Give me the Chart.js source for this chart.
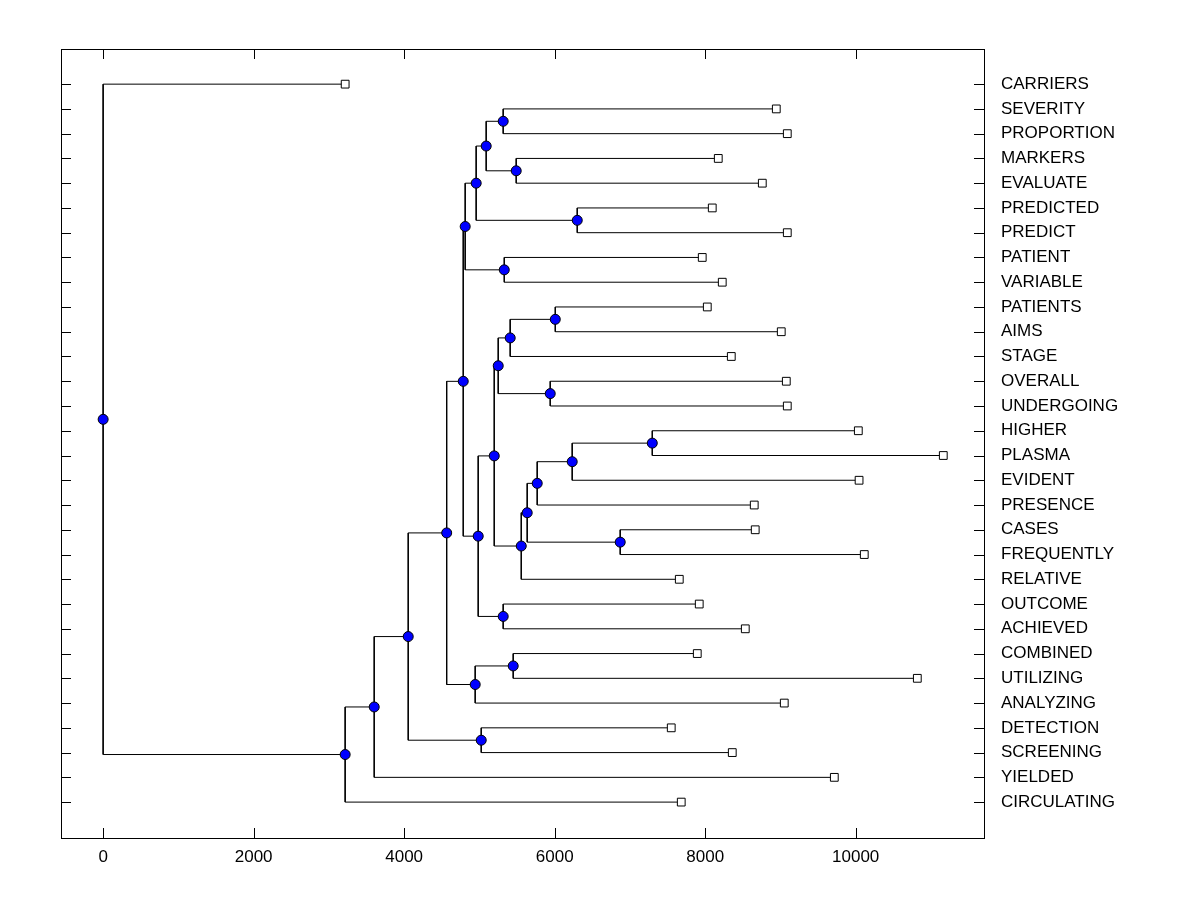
<!DOCTYPE html>
<html>
<head>
<meta charset="utf-8">
<script src="https://cdn.jsdelivr.net/npm/chart.js@4.4.1/dist/chart.umd.min.js"></script>
<style>
  html, body { margin: 0; padding: 0; background: #fff; }
  #wrap { width: 1200px; height: 900px; }
</style>
</head>
<body>
<div id="wrap"><canvas id="chartCanvas" width="1200" height="900"></canvas></div>
<script>
// leaves, top to bottom
const leafNames = ["CARRIERS", "SEVERITY", "PROPORTION", "MARKERS", "EVALUATE", "PREDICTED",
  "PREDICT", "PATIENT", "VARIABLE", "PATIENTS", "AIMS", "STAGE", "OVERALL", "UNDERGOING",
  "HIGHER", "PLASMA", "EVIDENT", "PRESENCE", "CASES", "FREQUENTLY", "RELATIVE", "OUTCOME",
  "ACHIEVED", "COMBINED", "UTILIZING", "ANALYZING", "DETECTION", "SCREENING", "YIELDED",
  "CIRCULATING"];
const leafHeights = [3216, 8945, 9091, 8174, 8759, 8094, 9091, 7961, 8227, 8028, 9011, 8347,
  9078, 9091, 10035, 11164, 10045, 8652, 8665, 10114, 7656, 7921, 8533, 7895, 10819, 9051,
  7549, 8360, 9716, 7682];

// merges (hclust style: -n = leaf n, +n = merge n)
const mergeLeft  = [-2, -4, 1, -6, 3, -8, 5, -10, 8, -13, 9, -15, 12, 13, -19, 14, 16, 11,
  -22, 18, 7, -24, 22, 21, -27, 24, 26, 27, -1];
const mergeRight = [-3, -5, 2, -7, 4, -9, 6, -11, -12, -14, 10, -16, -17, -18, -20, 15, -21,
  17, -23, 19, 20, -25, -26, 23, -28, 25, -29, -30, 28];
const mergeHeights = [5316, 5489, 5090, 6300, 4957, 5330, 4811, 6008, 5409, 5941, 5250, 7297,
  6233, 5768, 6871, 5635, 5556, 5197, 5316, 4984, 4785, 5449, 4944, 4565, 5024, 4054, 3602,
  3216, 0];

const xTicks = [0, 2000, 4000, 6000, 8000, 10000];

const nodePos = [];
const linkSets = [];

function childPos(ref) {
  if (ref < 0) return { x: leafHeights[-ref - 1], y: -ref - 1 };
  return nodePos[ref - 1];
}

mergeHeights.forEach((h, i) => {
  const a = childPos(mergeLeft[i]);
  const b = childPos(mergeRight[i]);
  nodePos.push({ x: h, y: (a.y + b.y) / 2 });
  linkSets.push([{ x: a.x, y: a.y }, { x: h, y: a.y }, { x: h, y: b.y }, { x: b.x, y: b.y }]);
});

const leafPos = leafHeights.map((v, i) => ({ x: v, y: i }));

// inward tick marks on all four sides
const innerTicks = {
  id: "innerTicks",
  beforeDatasetsDraw(chart) {
    const { ctx, chartArea: { left, right, top, bottom } } = chart;
    const xs = chart.scales.x, ys = chart.scales.y;
    ctx.save();
    ctx.strokeStyle = "#000";
    ctx.lineWidth = 1;
    ctx.beginPath();
    xTicks.forEach(v => {
      const px = Math.round(xs.getPixelForValue(v)) + 0.5;
      ctx.moveTo(px, bottom); ctx.lineTo(px, bottom - 10);
      ctx.moveTo(px, top); ctx.lineTo(px, top + 10);
    });
    leafNames.forEach((_, i) => {
      const py = Math.round(ys.getPixelForValue(i)) + 0.5;
      ctx.moveTo(left, py); ctx.lineTo(left + 10, py);
      ctx.moveTo(right, py); ctx.lineTo(right - 10, py);
    });
    ctx.stroke();
    ctx.restore();
  }
};

const datasets = [
  {
    data: nodePos, order: 0, pointStyle: "circle", pointRadius: 5, pointHoverRadius: 5,
    backgroundColor: "#0000ff", borderColor: "#000", borderWidth: 1
  },
  {
    data: leafPos, order: 0, pointStyle: "rect", pointRadius: 5.5, pointHoverRadius: 5.5,
    backgroundColor: "#fff", borderColor: "#000", borderWidth: 1
  }
].concat(linkSets.map(d => ({
  data: d, order: 1, showLine: true, pointRadius: 0, pointHoverRadius: 0,
  borderColor: "#000", borderWidth: 1, tension: 0, fill: false
})));

const font = { family: "'Liberation Sans', Arial, sans-serif", size: 17 };
Chart.defaults.color = "#000";

new Chart(document.getElementById("chartCanvas"), {
  type: "scatter",
  data: { datasets },
  options: {
    responsive: false,
    devicePixelRatio: 1,
    animation: false,
    events: [],
    layout: { padding: { left: 61, top: 49, right: 0, bottom: 0 } },
    plugins: { legend: { display: false }, tooltip: { enabled: false } },
    scales: {
      x: {
        type: "linear", position: "bottom", min: -560, max: 11705,
        afterBuildTicks: s => { s.ticks = xTicks.map(v => ({ value: v })); },
        afterFit: s => { s.height = 62; },
        grid: { display: false, drawTicks: false },
        border: { display: true, color: "#000", width: 1 },
        ticks: { font, padding: 9, maxRotation: 0, callback: v => String(v) }
      },
      x2: {
        type: "linear", position: "top", min: -560, max: 11705,
        afterFit: s => { s.height = 0; },
        grid: { display: false, drawTicks: false },
        border: { display: true, color: "#000", width: 1 },
        ticks: { display: false }
      },
      y: {
        type: "linear", position: "right", reverse: true, min: -1.42, max: 30.45,
        afterBuildTicks: s => { s.ticks = leafNames.map((_, i) => ({ value: i })); },
        afterFit: s => { s.width = 216; },
        grid: { display: false, drawTicks: false },
        border: { display: true, color: "#000", width: 1 },
        ticks: { font, padding: 17, autoSkip: false, callback: v => leafNames[v] }
      },
      y2: {
        type: "linear", position: "left", reverse: true, min: -1.42, max: 30.45,
        afterFit: s => { s.width = 0; },
        grid: { display: false, drawTicks: false },
        border: { display: true, color: "#000", width: 1 },
        ticks: { display: false }
      }
    }
  },
  plugins: [innerTicks]
});
</script>
</body>
</html>
